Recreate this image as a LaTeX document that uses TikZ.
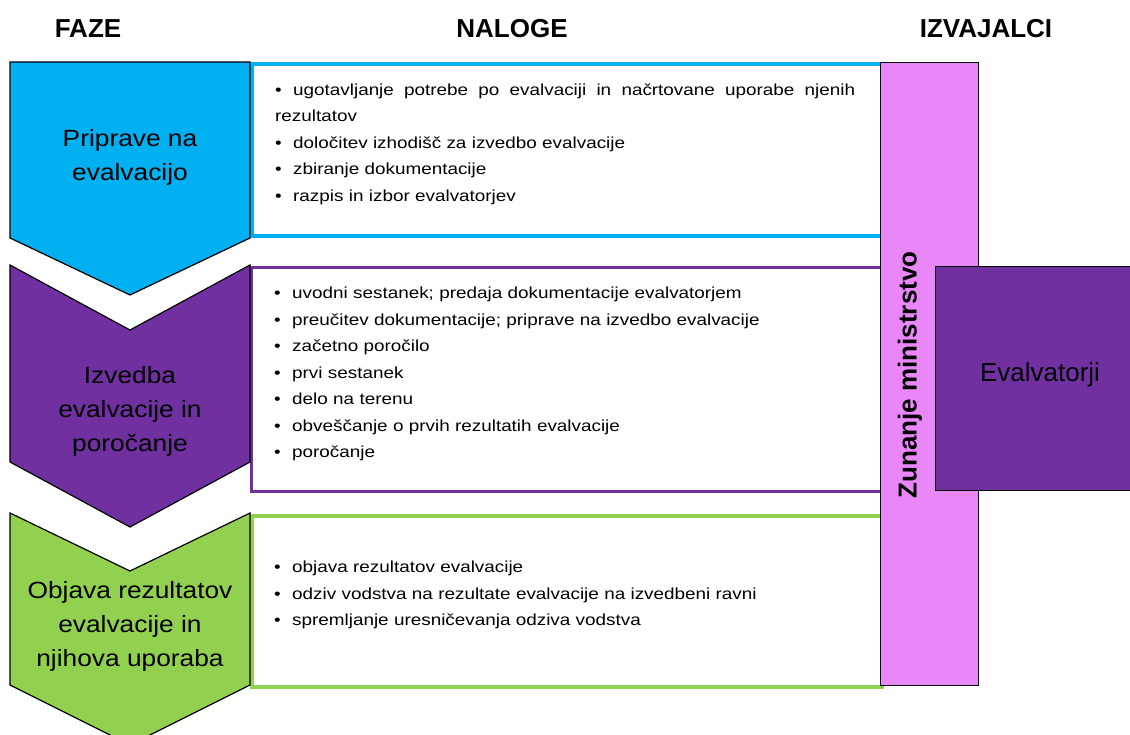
\documentclass[tikz,border=0pt]{standalone}
\usepackage{fontspec}
\setmainfont{Liberation Sans}
\newfontfamily\bodyfont{Liberation Sans}[FakeStretch=1.18]
\newfontfamily\phasefont{Liberation Sans}[FakeStretch=1.12]
\definecolor{cyanB}{HTML}{00B0F0}
\definecolor{purpB}{HTML}{7030A0}
\definecolor{greenB}{HTML}{92D050}
\definecolor{pinkB}{HTML}{E987F9}
\newcommand{\bul}{\makebox[18pt][l]{\textbullet}}
\begin{document}
\begin{tikzpicture}[x=1pt,y=-1pt,
  chev/.style={draw=black, line width=1.2pt, line join=miter},
  taskbox/.style={line width=3.8pt, fill=white, anchor=north west, inner sep=0pt},
  phase/.style={align=center, inner sep=0pt, font=\phasefont\fontsize{23.5}{34}\selectfont},
  tasks/.style={anchor=north west, inner sep=0pt, text width=600pt, align=left, font=\bodyfont\fontsize{16}{26.5}\selectfont},
  head/.style={inner sep=0pt, font=\bfseries\fontsize{26}{30}\selectfont},
  actor/.style={draw=black, line width=1.2pt, anchor=north west, inner sep=0pt}]
\useasboundingbox (0,0) rectangle (1130,735);
\clip (0,0) rectangle (1130,735);
% headers
\node[head] (hfaze) at (88,29) {FAZE};
\node[head] (hnaloge) at (512,29) {NALOGE};
\node[head] (hizv) at (986,29) {IZVAJALCI};
% task boxes
\node[taskbox, draw=cyanB, minimum width=630pt, minimum height=172pt] (box1) at (250,62) {};
\node[taskbox, draw=purpB, line width=3pt, minimum width=630pt, minimum height=224pt] (box2) at (250,266) {};
\node[taskbox, draw=greenB, minimum width=630pt, minimum height=171pt] (box3) at (250,514) {};
% chevrons
\fill[cyanB] (10,62) -- (250,62) -- (250,238) -- (130,295) -- (10,238) -- cycle;
\draw[chev] (10,62) -- (250,62) -- (250,238) -- (130,295) -- (10,238) -- cycle;
\fill[purpB] (10,265) -- (130,330) -- (250,265) -- (250,462) -- (130,527) -- (10,462) -- cycle;
\draw[chev] (10,265) -- (130,330) -- (250,265) -- (250,462) -- (130,527) -- (10,462) -- cycle;
\fill[greenB] (10,513) -- (130,571) -- (250,513) -- (250,685) -- (130,745) -- (10,685) -- cycle;
\draw[chev] (10,513) -- (130,571) -- (250,513) -- (250,685) -- (130,745) -- (10,685) -- cycle;
% phase labels
\node[phase] (p1) at (130,157) {Priprave na\\evalvacijo};
\node[phase] (p2) at (130,411) {Izvedba\\evalvacije in\\poročanje};
\node[phase] (p3) at (130,626) {Objava rezultatov\\evalvacije in\\njihova uporaba};
% task lists
\node[tasks] (t1) at (275,76.5) {\strut\hbox to 580pt{\bul ugotavljanje\hfill potrebe\hfill po\hfill evalvaciji\hfill in\hfill načrtovane\hfill uporabe\hfill njenih}\\
rezultatov\\
\bul določitev izhodišč za izvedbo evalvacije\\
\bul zbiranje dokumentacije\\
\bul razpis in izbor evalvatorjev};
\node[tasks] (t2) at (274,280) {\strut\bul uvodni sestanek; predaja dokumentacije evalvatorjem\\
\bul preučitev dokumentacije; priprave na izvedbo evalvacije\\
\bul začetno poročilo\\
\bul prvi sestanek\\
\bul delo na terenu\\
\bul obveščanje o prvih rezultatih evalvacije\\
\bul poročanje};
\node[tasks] (t3) at (274,554) {\strut\bul objava rezultatov evalvacije\\
\bul odziv vodstva na rezultate evalvacije na izvedbeni ravni\\
\bul spremljanje uresničevanja odziva vodstva};
% actors
\node[actor, fill=pinkB, minimum width=98pt, minimum height=623pt] (zm) at (880,62) {};
\node[rotate=90, inner sep=0pt, font=\bfseries\fontsize{26}{30}\selectfont] (zmt) at (910,375) {Zunanje ministrstvo};
\node[actor, fill=purpB, minimum width=197pt, minimum height=224pt] (ev) at (935,266) {};
\node[inner sep=0pt, font=\fontsize{26}{30}\selectfont] (evt) at (1040,375) {Evalvatorji};
\end{tikzpicture}
\end{document}
